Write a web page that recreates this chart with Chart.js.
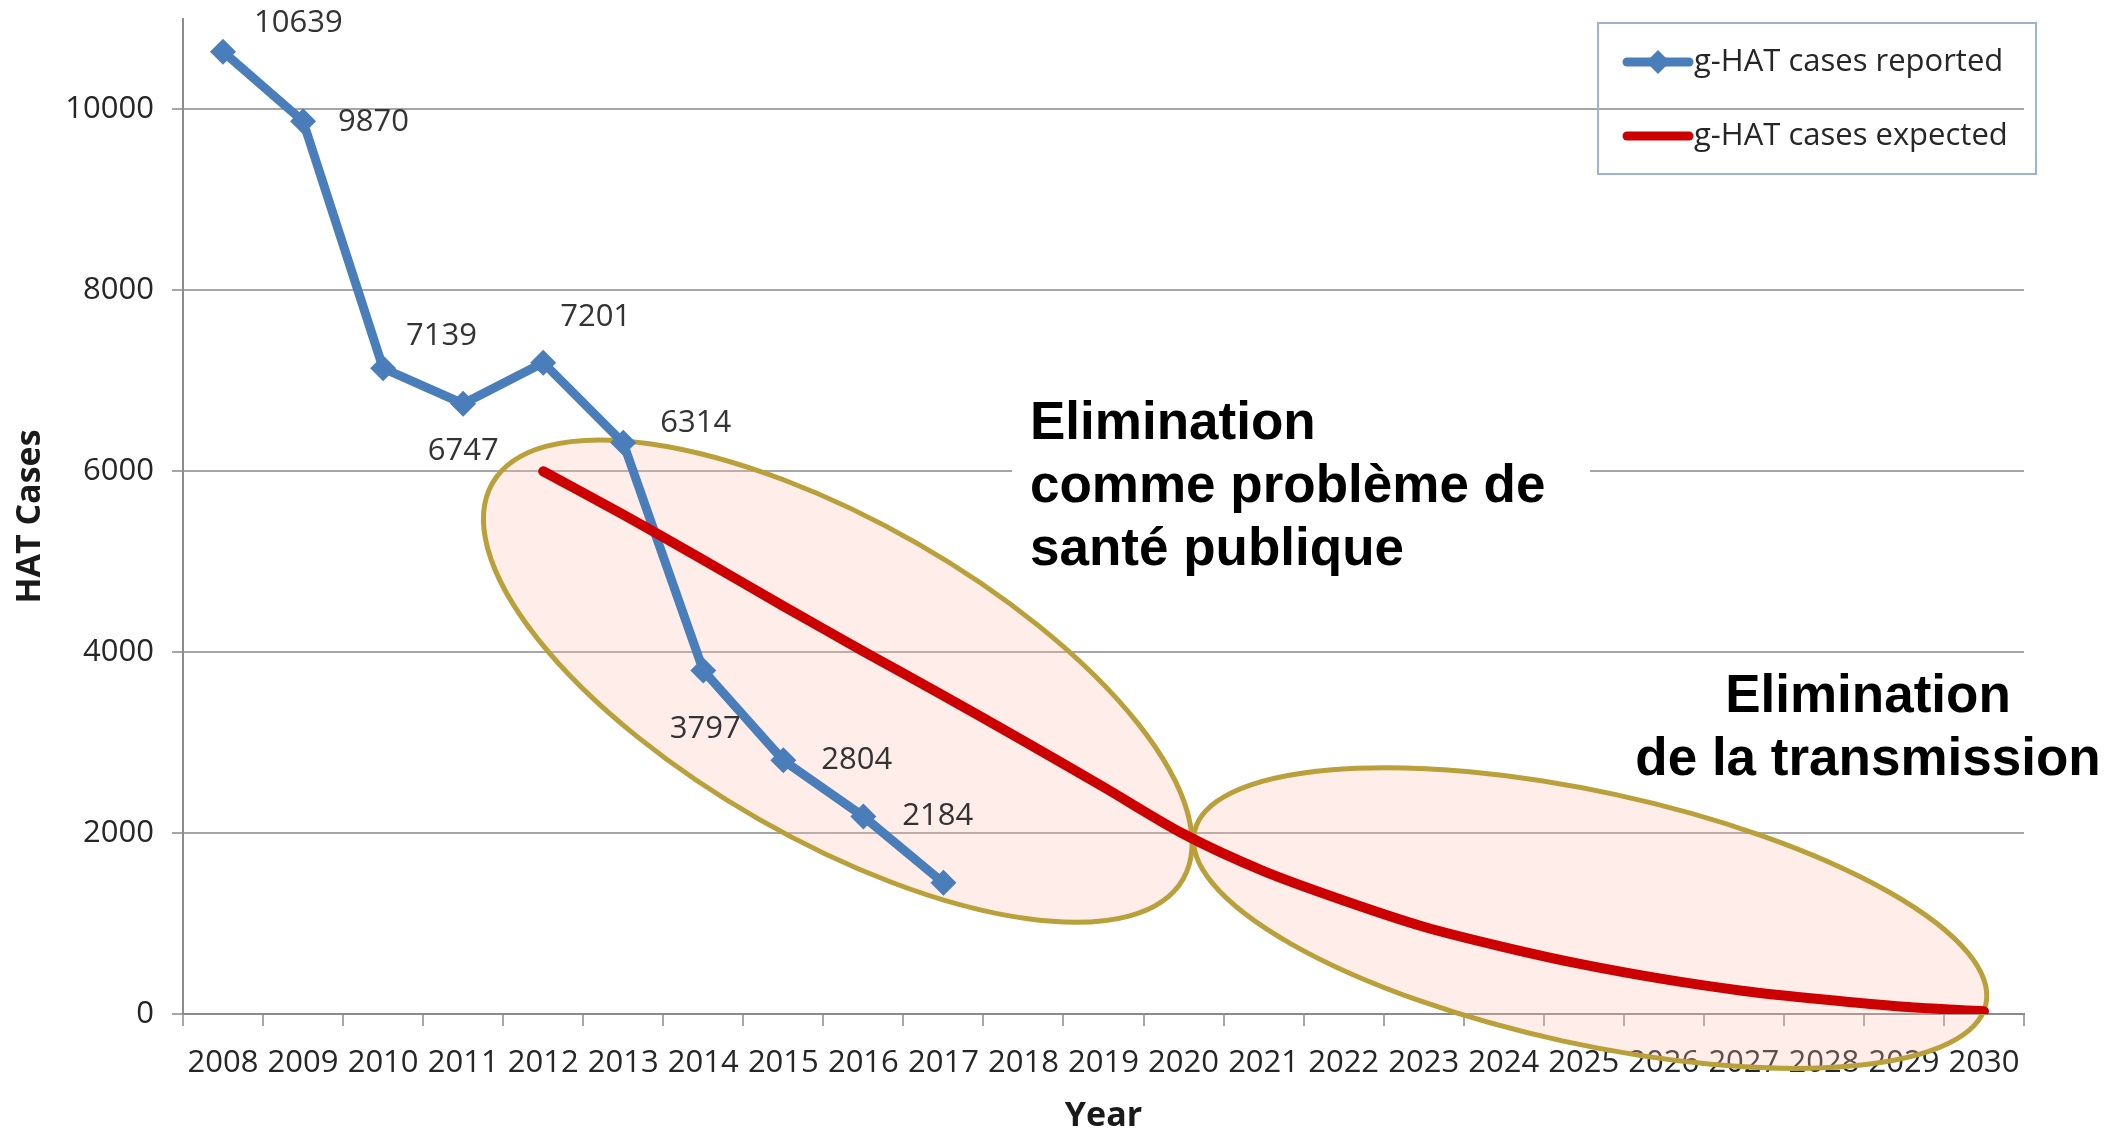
<!DOCTYPE html>
<html>
<head>
<meta charset="utf-8">
<script src="https://cdn.jsdelivr.net/npm/chart.js@4.4.1/dist/chart.umd.min.js"></script>
<style>
  html, body { margin: 0; padding: 0; background: #fff; }
  #wrap { width: 2120px; height: 1133px; }
</style>
</head>
<body>
<div id="wrap"><canvas id="myChart" width="2120" height="1133"></canvas></div>
<script>
// Donnees
const annees = ['2008', '2009', '2010', '2011', '2012', '2013', '2014', '2015', '2016', '2017', '2018', '2019',
    '2020', '2021', '2022', '2023', '2024', '2025', '2026', '2027', '2028', '2029', '2030'];
const casRapportes = [10639, 9870, 7139, 6747, 7201, 6314, 3797, 2804, 2184, 1450,
    null, null, null, null, null, null, null, null, null, null, null, null, null];
const casAttendus = [null, null, null, null,
    6000, 5520, 5020, 4510, 4010, 3520, 3020, 2510, 1990,
    1580, 1255, 965, 740, 545, 385, 255, 160, 80, 30];
const ticksY = [0, 2000, 4000, 6000, 8000, 10000];
const nomsSeries = ['g-HAT cases reported', 'g-HAT cases expected'];

const bleu = '#4A7EBB';
const rouge = '#CC0000';
const gris = '#A6A6A6';
const texte = '#262626';
const police = "'Open Sans', sans-serif";
const policeGras = "'Liberation Sans', Arial, sans-serif";

// decalage des etiquettes de valeurs (dx, dy, alignement)
const placementEtiquettes = [
    [31, -28, 'left'], [35, 1, 'left'], [23, -32, 'left'], [0, 47, 'center'], [17, -45, 'left'],
    [37, -20, 'left'], [2, 59, 'center'], [38, 0, 'left'], [39, 0, 'left'], null
];

// ellipses : centre en (index categorie, valeur), rayons en pixels
const ellipses = [
    { x: 7.68, y: 3680, rx: 398, ry: 159, rot: 29.8 },
    { x: 17.08, y: 1061, rx: 405, ry: 126, rot: 12.3 }
];

const pluginFond = {
    id: 'fond',
    beforeDatasetsDraw(chart) {
        const ctx = chart.ctx;
        const sx = chart.scales.x, sy = chart.scales.y;
        ctx.save();
        // fond blanc derriere le premier texte
        ctx.fillStyle = '#fff';
        ctx.fillRect(1012, 385, 578, 195);
        for (const e of ellipses) {
            ctx.beginPath();
            ctx.ellipse(sx.getPixelForValue(e.x), sy.getPixelForValue(e.y), e.rx, e.ry, e.rot * Math.PI / 180, 0, Math.PI * 2);
            ctx.fillStyle = 'rgba(250,190,170,0.27)';
            ctx.fill();
            ctx.lineWidth = 5;
            ctx.strokeStyle = '#B9A03A';
            ctx.stroke();
        }
        ctx.restore();
    }
};

const pluginTextes = {
    id: 'textes',
    afterDatasetsDraw(chart) {
        const ctx = chart.ctx;
        const meta = chart.getDatasetMeta(0);
        ctx.save();

        // etiquettes de valeurs
        ctx.font = '31px ' + police;
        ctx.fillStyle = '#333';
        ctx.textBaseline = 'middle';
        meta.data.forEach(function(pt, i) {
            const p = placementEtiquettes[i];
            if (!p || casRapportes[i] === null) return;
            ctx.textAlign = p[2];
            ctx.fillText(String(casRapportes[i]), pt.x + p[0], pt.y + p[1]);
        });

        // textes d'annotation
        ctx.fillStyle = '#000';
        ctx.font = 'bold 53px ' + policeGras;
        ctx.textBaseline = 'alphabetic';
        ctx.textAlign = 'left';
        ctx.fillText('Elimination', 1030, 439);
        ctx.fillText('comme problème de', 1030, 502);
        ctx.fillText('santé publique', 1030, 565);
        ctx.textAlign = 'center';
        ctx.fillText('Elimination', 1868, 712);
        ctx.fillText('de la transmission', 1868, 775);

        // legende
        ctx.strokeStyle = '#9DB3D3';
        ctx.lineWidth = 2;
        ctx.strokeRect(1598, 23, 438, 151);
        const couleurs = [bleu, rouge];
        const ys = [62, 136];
        for (let k = 0; k < 2; k++) {
            ctx.beginPath();
            ctx.moveTo(1627, ys[k]);
            ctx.lineTo(1689, ys[k]);
            ctx.strokeStyle = couleurs[k];
            ctx.lineWidth = 9;
            ctx.lineCap = 'round';
            ctx.stroke();
            if (k === 0) {
                ctx.beginPath();
                ctx.moveTo(1658, ys[k] - 12);
                ctx.lineTo(1670, ys[k]);
                ctx.lineTo(1658, ys[k] + 12);
                ctx.lineTo(1646, ys[k]);
                ctx.closePath();
                ctx.fillStyle = bleu;
                ctx.fill();
            }
            ctx.fillStyle = texte;
            ctx.font = '31px ' + police;
            ctx.textAlign = 'left';
            ctx.textBaseline = 'middle';
            ctx.fillText(nomsSeries[k], 1694, ys[k]);
        }
        ctx.restore();
    }
};

const ctx = document.querySelector('#myChart');
const myChart = new Chart(ctx, {
    type: 'line',
    data: {
        labels: annees,
        datasets: [{
            label: nomsSeries[0],
            data: casRapportes,
            borderColor: bleu,
            backgroundColor: bleu,
            borderWidth: 9,
            pointStyle: 'rectRot',
            pointRadius: 13,
            pointBorderWidth: 0,
            pointBackgroundColor: bleu,
            tension: 0,
            order: 1
        }, {
            label: nomsSeries[1],
            data: casAttendus,
            borderColor: rouge,
            backgroundColor: rouge,
            borderWidth: 10,
            borderCapStyle: 'round',
            pointRadius: 0,
            tension: 0.3,
            order: 0
        }]
    },
    options: {
        responsive: false,
        devicePixelRatio: 1,
        animation: false,
        layout: { padding: { top: 19, right: 96, left: 0, bottom: 0 } },
        plugins: {
            legend: { display: false },
            tooltip: { enabled: false }
        },
        scales: {
            x: {
                offset: true,
                grid: { offset: true, drawOnChartArea: false, color: gris, lineWidth: 2, tickLength: 12 },
                border: { display: true, color: '#8C8C8C', width: 2 },
                ticks: {
                    font: { family: police, size: 31 },
                    color: texte,
                    padding: 19,
                    maxRotation: 0,
                    autoSkip: false
                },
                title: {
                    display: true,
                    text: 'Year',
                    font: { family: police, size: 34, weight: 'bold', lineHeight: 1 },
                    color: '#1a1a1a',
                    padding: { top: 0, bottom: 0 }
                },
                afterFit(scale) {
                    scale.height = 119;
                    scale.paddingLeft = 0;
                    scale.paddingRight = 0;
                }
            },
            y: {
                min: 0,
                max: 11000,
                afterBuildTicks(scale) {
                    scale.ticks = ticksY.map(function(v) { return { value: v }; });
                },
                grid: { color: gris, lineWidth: 2, tickLength: 11 },
                border: { display: true, color: '#8C8C8C', width: 2 },
                ticks: {
                    font: { family: police, size: 31 },
                    color: texte,
                    padding: 18,
                    callback: function(v) { return String(v); }
                },
                title: {
                    display: true,
                    text: 'HAT Cases',
                    font: { family: police, size: 34, weight: 'bold' },
                    color: '#1a1a1a',
                    padding: { top: 10, bottom: 0 }
                },
                afterFit(scale) {
                    scale.width = 183;
                    scale.paddingTop = 0;
                    scale.paddingBottom = 0;
                }
            }
        }
    },
    plugins: [pluginFond, pluginTextes]
});
</script>
</body>
</html>
